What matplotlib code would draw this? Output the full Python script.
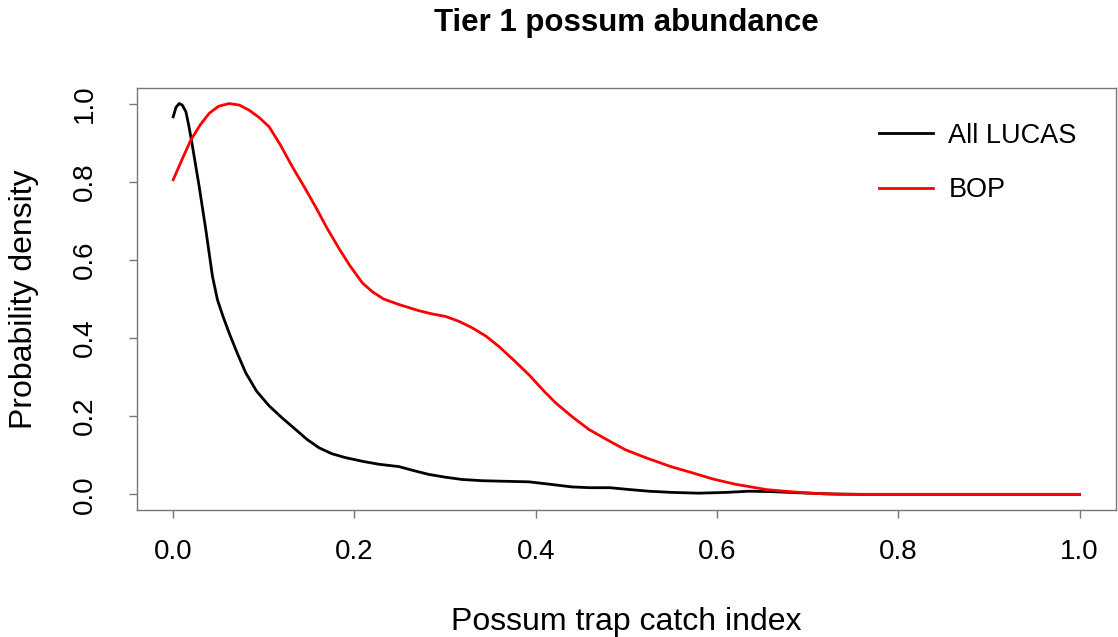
import matplotlib
matplotlib.use("Agg")
import matplotlib.pyplot as plt

plt.rcParams['font.family'] = ['Liberation Sans', 'DejaVu Sans']

# density curves, scaled so each peaks at 1
lucas_x = [0.0, 0.003, 0.0066, 0.010, 0.014, 0.0175, 0.0213, 0.0287, 0.036, 0.0433,
           0.0488, 0.055, 0.0617, 0.070, 0.080, 0.092, 0.106, 0.120, 0.135, 0.148,
           0.161, 0.175, 0.190, 0.210, 0.227, 0.249, 0.265, 0.282, 0.300, 0.319,
           0.340, 0.356, 0.3925, 0.415, 0.440, 0.460, 0.482, 0.500, 0.525, 0.550,
           0.580, 0.610, 0.635, 0.660, 0.690, 0.727, 0.760, 0.800, 0.900, 1.0]
lucas_y = [0.966, 0.99, 1.0, 0.996, 0.979, 0.94, 0.89, 0.787, 0.677, 0.558,
           0.498, 0.455, 0.413, 0.365, 0.311, 0.264, 0.226, 0.196, 0.166, 0.140,
           0.119, 0.104, 0.094, 0.084, 0.077, 0.071, 0.061, 0.051, 0.044, 0.038,
           0.035, 0.034, 0.032, 0.026, 0.019, 0.017, 0.017, 0.013, 0.008, 0.005,
           0.003, 0.005, 0.008, 0.007, 0.004, 0.001, 0.0, 0.0, 0.0, 0.0]

bop_x = [0.0, 0.010, 0.0195, 0.030, 0.0397, 0.050, 0.0617, 0.073, 0.0838, 0.095,
         0.106, 0.118, 0.1315, 0.145, 0.157, 0.170, 0.184, 0.195, 0.2087, 0.220,
         0.232, 0.250, 0.271, 0.285, 0.3007, 0.315, 0.330, 0.345, 0.359, 0.375,
         0.3925, 0.410, 0.422, 0.440, 0.4587, 0.480, 0.499, 0.520, 0.549, 0.570,
         0.596, 0.620, 0.655, 0.680, 0.697, 0.720, 0.739, 0.800, 0.900, 1.0]
bop_y = [0.805, 0.858, 0.907, 0.946, 0.975, 0.993, 1.0, 0.996, 0.983, 0.964,
         0.94, 0.895, 0.838, 0.785, 0.736, 0.68, 0.625, 0.585, 0.541, 0.518,
         0.500, 0.485, 0.47, 0.462, 0.455, 0.443, 0.426, 0.405, 0.379, 0.345,
         0.306, 0.262, 0.234, 0.199, 0.166, 0.138, 0.114, 0.095, 0.071, 0.057,
         0.039, 0.026, 0.012, 0.007, 0.004, 0.001, 0.0, 0.0, 0.0, 0.0]

ticks = [0.0, 0.2, 0.4, 0.6, 0.8, 1.0]
tick_labels = ['0.0', '0.2', '0.4', '0.6', '0.8', '1.0']

fig = plt.figure(figsize=(11.18, 6.37), dpi=100)
ax = fig.add_axes([0.1225, 0.1994, 0.8755, 0.6626])

ax.plot(lucas_x, lucas_y, color='black', lw=2.0, label='All LUCAS',
        solid_joinstyle='round')
ax.plot(bop_x, bop_y, color='red', lw=2.0, label='BOP', solid_joinstyle='round')

ax.set_xlim(-0.04, 1.04)
ax.set_ylim(-0.04, 1.04)
ax.set_xticks(ticks)
ax.set_xticklabels(tick_labels)
ax.set_yticks(ticks)
ax.set_yticklabels(tick_labels, rotation=90, va='center')

for s in ax.spines.values():
    s.set_color('#777777')
    s.set_linewidth(1.0)
ax.tick_params(axis='both', direction='out', length=6, width=1.0, color='#777777',
               labelsize=20)
ax.tick_params(axis='x', pad=15)
ax.tick_params(axis='y', pad=22)

ax.set_xlabel('Possum trap catch index', fontsize=23, labelpad=30)
ax.set_ylabel('Probability density', fontsize=23, labelpad=24)
ax.set_title('Tier 1 possum abundance', fontsize=22.5, fontweight='bold', pad=41)

ax.legend(loc='upper right', frameon=False, fontsize=19.5, handlelength=2.0,
          handletextpad=0.55, labelspacing=1.05, bbox_to_anchor=(0.985, 0.975))

fig.savefig('out.png', dpi=100)
